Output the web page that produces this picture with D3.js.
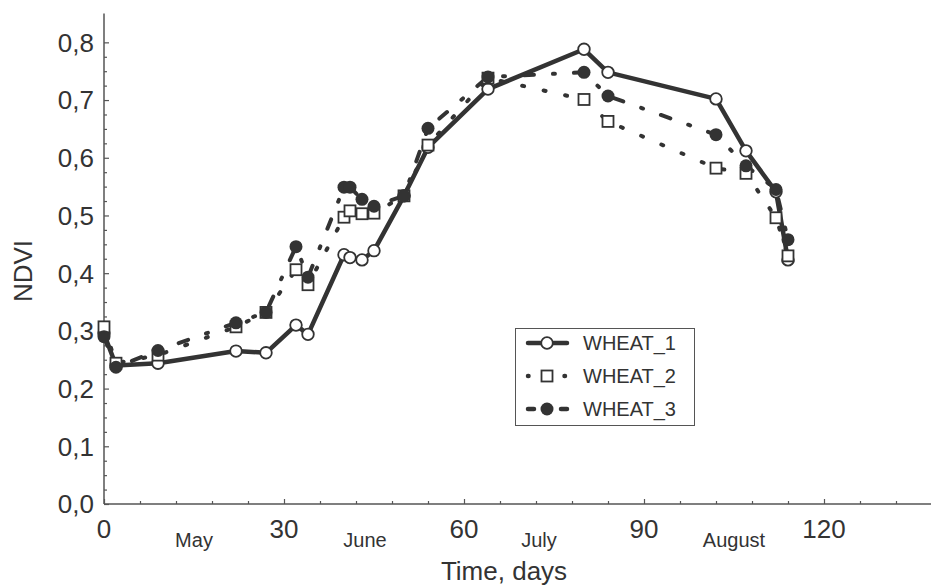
<!DOCTYPE html>
<html>
<head>
<meta charset="utf-8">
<script src="https://cdn.jsdelivr.net/npm/d3@7"></script>
<style>
  body { margin: 0; background: #fff; }
  svg { display: block; font-family: "Liberation Sans", Arial, sans-serif; }
</style>
</head>
<body>
<script>
  var days = [0, 2, 9, 22, 27, 32, 34, 40, 41, 43, 45, 50, 54, 64, 80, 84, 102, 107, 112, 114];
  var wheat1 = [0.295, 0.240, 0.244, 0.265, 0.262, 0.310, 0.294, 0.432, 0.427, 0.423, 0.439, 0.534, 0.618, 0.719, 0.788, 0.748, 0.702, 0.612, 0.541, 0.423];
  var wheat2 = [0.307, 0.244, 0.258, 0.307, 0.332, 0.406, 0.380, 0.497, 0.508, 0.503, 0.504, 0.534, 0.622, 0.738, 0.701, 0.663, 0.582, 0.573, 0.496, 0.430];
  var wheat3 = [0.290, 0.237, 0.266, 0.314, 0.332, 0.446, 0.393, 0.549, 0.549, 0.528, 0.516, 0.534, 0.651, 0.740, 0.748, 0.707, 0.640, 0.586, 0.545, 0.458];
  var seriesNames = ["WHEAT_1", "WHEAT_2", "WHEAT_3"];
  var xTicks = [0, 30, 60, 90, 120];
  var yTicks = [0, 0.1, 0.2, 0.3, 0.4, 0.5, 0.6, 0.7, 0.8];
  var months = ["May", "June", "July", "August"];
  var monthDays = [15, 43.5, 72.5, 105];

  var W = 931, H = 585, ink = "#333";
  var x = d3.scaleLinear().domain([0, 138]).range([104, 932]);
  var y = d3.scaleLinear().domain([0, 0.85]).range([504, 13.5]);

  var svg = d3.select("body").append("svg").attr("width", W).attr("height", H);

  // axes
  var yAxis = d3.axisRight(y).tickValues(d3.range(0, 0.8001, 0.025)).tickSize(3).tickFormat("");
  svg.append("g").attr("transform", "translate(" + x(0) + ",0)").call(yAxis)
    .call(function (g) {
      g.select(".domain").attr("stroke", "#555").attr("stroke-width", 1.5).attr("d", "M0," + y(0) + "V13.5");
      g.selectAll(".tick line").attr("stroke", "#555").attr("stroke-width", 1.2)
        .attr("x2", function (d) { return Math.abs(d * 10 - Math.round(d * 10)) < 1e-6 ? 5 : 3; });
    });
  svg.append("g").selectAll("text").data(yTicks).enter().append("text")
    .attr("x", 94).attr("y", function (d) { return y(d); }).attr("dy", "0.36em")
    .attr("text-anchor", "end").attr("font-size", 26).attr("fill", ink)
    .text(function (d) { return d.toFixed(1).replace(".", ","); });

  var xAxis = d3.axisTop(x).tickValues(d3.range(0, 139, 6)).tickSize(3).tickFormat("");
  svg.append("g").attr("transform", "translate(0," + y(0) + ")").call(xAxis)
    .call(function (g) {
      g.select(".domain").attr("stroke", "#555").attr("stroke-width", 1.5).attr("d", "M" + x(0) + ",0H" + W);
      g.selectAll(".tick line").attr("stroke", "#555").attr("stroke-width", 1.2)
        .attr("y2", function (d) { return d % 30 === 0 ? -5 : -3; });
    });
  svg.append("g").selectAll("text").data(xTicks).enter().append("text")
    .attr("x", function (d) { return x(d); }).attr("y", 538)
    .attr("text-anchor", "middle").attr("font-size", 26).attr("fill", ink)
    .text(function (d) { return d; });
  svg.append("g").selectAll("text").data(months).enter().append("text")
    .attr("x", function (d, i) { return x(monthDays[i]); }).attr("y", 547)
    .attr("text-anchor", "middle").attr("font-size", 20).attr("fill", ink)
    .text(function (d) { return d; });

  svg.append("text").attr("x", 504).attr("y", 580).attr("text-anchor", "middle")
    .attr("font-size", 26).attr("fill", ink).text("Time, days");
  svg.append("text").attr("transform", "translate(32,271) rotate(-90)")
    .attr("text-anchor", "middle").attr("font-size", 26).attr("fill", ink).text("NDVI");

  // series
  var styles = [
    {dash: null, marker: "open"},
    {dash: "2,20", marker: "square"},
    {dash: "10,19,2,19", marker: "dot"}
  ];
  var series = [wheat1, wheat2, wheat3].map(function (vals, i) {
    return {name: seriesNames[i], style: styles[i],
      points: vals.map(function (v, j) { return {d: days[j], v: v}; })};
  });
  var line = d3.line().x(function (p) { return x(p.d); }).y(function (p) { return y(p.v); });

  function drawMarker(g, kind, cx, cy) {
    if (kind === "open") {
      g.append("circle").attr("cx", cx).attr("cy", cy).attr("r", 5.8)
        .attr("fill", "#fff").attr("stroke", ink).attr("stroke-width", 1.8);
    } else if (kind === "square") {
      g.append("rect").attr("x", cx - 5.5).attr("y", cy - 5.5).attr("width", 11).attr("height", 11)
        .attr("fill", "#fff").attr("stroke", ink).attr("stroke-width", 1.8);
    } else {
      g.append("circle").attr("cx", cx).attr("cy", cy).attr("r", 6.5).attr("fill", ink);
    }
  }

  series.forEach(function (s) {
    svg.append("path").datum(s.points).attr("d", line)
      .attr("fill", "none").attr("stroke", ink)
      .attr("stroke-width", s.style.dash ? 4 : 4.5)
      .attr("stroke-linecap", "round").attr("stroke-linejoin", "round")
      .attr("stroke-dasharray", s.style.dash);
  });
  series.forEach(function (s) {
    var g = svg.append("g");
    s.points.forEach(function (p) { drawMarker(g, s.style.marker, x(p.d), y(p.v)); });
  });

  // legend
  var lg = svg.append("g");
  lg.append("rect").attr("x", 515.5).attr("y", 328.5).attr("width", 179).attr("height", 97)
    .attr("fill", "#fff").attr("stroke", "#555").attr("stroke-width", 1);
  series.forEach(function (s, i) {
    var ry = 343 + i * 33;
    lg.append("line").attr("x1", 528).attr("x2", 567).attr("y1", ry).attr("y2", ry)
      .attr("stroke", ink).attr("stroke-width", 4.5).attr("stroke-linecap", "round")
      .attr("stroke-dasharray", i === 0 ? null : (i === 1 ? "0.5,36" : "6,27"));
    drawMarker(lg, s.style.marker, 547, ry);
    lg.append("text").attr("x", 583).attr("y", ry).attr("dy", "0.36em")
      .attr("font-size", 20).attr("fill", ink).text(s.name);
  });
</script>
</body>
</html>
